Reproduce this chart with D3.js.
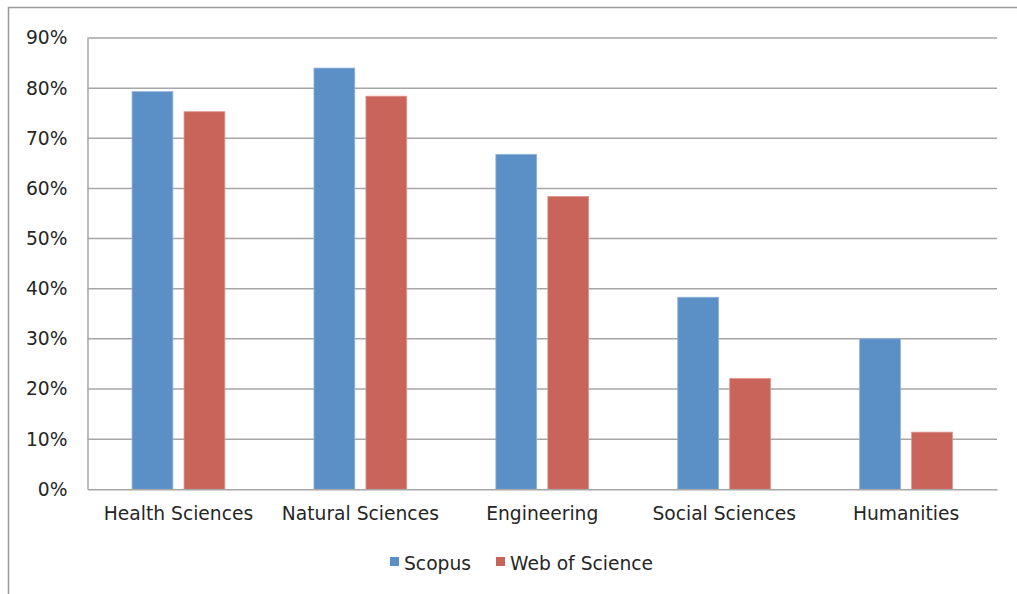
<!DOCTYPE html>
<html>
<head>
<meta charset="utf-8">
<script src="https://cdn.jsdelivr.net/npm/d3@7"></script>
<style>
  body { margin: 0; background: #fff; }
  svg text { font-family: "DejaVu Sans", Verdana, sans-serif; fill: #262626; }
</style>
</head>
<body>
<svg id="chart"></svg>
<script>
const categories = ['Health Sciences', 'Natural Sciences', 'Engineering', 'Social Sciences', 'Humanities'];
const seriesNames = ['Scopus', 'Web of Science'];
const scopus = [0.793, 0.840, 0.668, 0.383, 0.300];
const webOfScience = [0.753, 0.784, 0.584, 0.221, 0.114];
const yTicks = [0, 0.1, 0.2, 0.3, 0.4, 0.5, 0.6, 0.7, 0.8, 0.9];
const colors = ['#5b90c6', '#c9645a'];

const width = 1017, height = 594;
const margin = { top: 38, right: 20, bottom: 105, left: 87.5 };
const fontSize = '18.7px';

const svg = d3.select('#chart').attr('width', width).attr('height', height);

// outer frame
svg.append('rect')
  .attr('x', 8.5).attr('y', 7.5)
  .attr('width', width + 10).attr('height', height + 10)
  .attr('fill', 'none').attr('stroke', '#999').attr('stroke-width', 1.5);

const x = d3.scaleBand()
  .domain(categories)
  .range([margin.left, 997])
  .paddingInner(0).paddingOuter(0);

const inner = d3.scaleBand()
  .domain(seriesNames)
  .range([x.bandwidth() * 0.245, x.bandwidth() * 0.755])
  .paddingInner(0.215);

const y = d3.scaleLinear()
  .domain([0, 0.9])
  .range([489.3, margin.top]);

// gridlines
svg.append('g')
  .selectAll('line')
  .data(yTicks.slice(1))
  .enter().append('line')
  .attr('x1', margin.left).attr('x2', 997)
  .attr('y1', d => y(d)).attr('y2', d => y(d))
  .attr('stroke', '#a6a6a6').attr('stroke-width', 1.5);

// y axis
const yAxis = svg.append('g')
  .attr('transform', `translate(${margin.left},0)`)
  .call(d3.axisLeft(y).tickValues(yTicks).tickFormat(d3.format('.0%')).tickSize(0).tickPadding(20));
yAxis.select('.domain').attr('stroke', '#a6a6a6').attr('stroke-width', 1.5);
yAxis.selectAll('text').style('font-size', fontSize).style('fill', '#262626');

const series = [scopus, webOfScience];

svg.append('g')
  .selectAll('g')
  .data(categories)
  .enter().append('g')
  .attr('transform', d => `translate(${x(d)},0)`)
  .selectAll('rect')
  .data((d, i) => seriesNames.map((s, j) => ({ s, v: series[j][i], j })))
  .enter().append('rect')
  .attr('x', d => inner(d.s))
  .attr('width', inner.bandwidth())
  .attr('y', d => y(d.v))
  .attr('height', d => y(0) - y(d.v))
  .attr('fill', d => colors[d.j])
  .attr('stroke', d => d.j === 0 ? '#8fb3dc' : '#de958d')
  .attr('stroke-width', 0.8);

// x axis
const xAxis = svg.append('g')
  .attr('transform', `translate(0,${y(0)})`)
  .call(d3.axisBottom(x).tickSize(0).tickPadding(17));
xAxis.select('.domain').attr('stroke', '#a6a6a6').attr('stroke-width', 1.5);
xAxis.selectAll('text').style('font-size', fontSize).style('fill', '#262626');

// legend
const legend = svg.append('g');
const legendX = [390, 496];
seriesNames.forEach((s, i) => {
  legend.append('rect')
    .attr('x', legendX[i]).attr('y', 557)
    .attr('width', 9).attr('height', 9)
    .attr('fill', colors[i]);
  legend.append('text')
    .attr('x', legendX[i] + 14).attr('y', 569.5)
    .style('font-size', fontSize)
    .text(s);
});
</script>
</body>
</html>
